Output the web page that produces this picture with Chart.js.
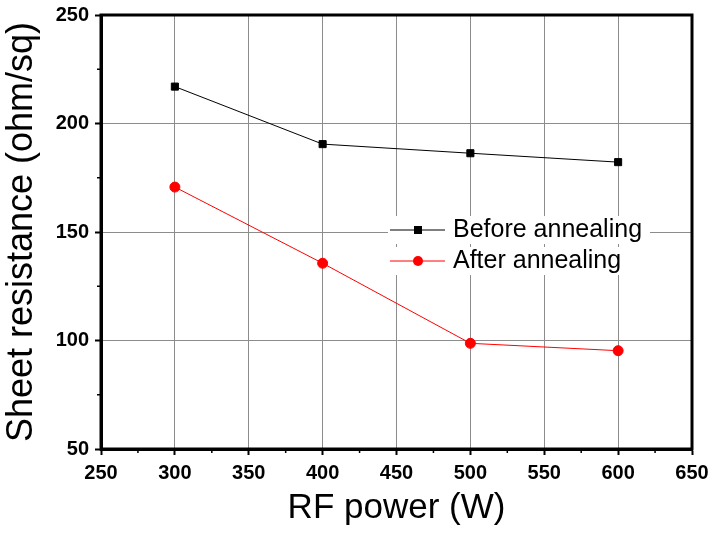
<!DOCTYPE html>
<html>
<head>
<meta charset="utf-8">
<script src="https://cdn.jsdelivr.net/npm/chart.js@4.4.1/dist/chart.umd.min.js"></script>
<style>
  body { margin: 0; background: #fff; }
  #wrap { width: 712px; height: 533px; position: relative; }
</style>
</head>
<body>
<div id="wrap"><canvas id="grafica"></canvas></div>
<script>
// Datos
const rfPower = [300, 400, 500, 600];
const beforeAnnealing = [217, 190.5, 186.3, 182.2];
const afterAnnealing = [170.7, 135.6, 98.7, 95.3];
const xTicks = [250, 300, 350, 400, 450, 500, 550, 600, 650];
const yTicks = [50, 100, 150, 200, 250];
const seriesNames = ["Before annealing", "After annealing"];

const fuente = "'Liberation Sans', Arial, sans-serif";

// Ticks menores, marco y leyenda dentro del área
const extras = {
  id: "extras",
  afterDraw(chart) {
    const ctx = chart.ctx;
    const a = chart.chartArea;
    const sx = chart.scales.x;
    const sy = chart.scales.y;
    ctx.save();
    ctx.strokeStyle = "#000";
    ctx.lineWidth = 1.5;
    // ticks menores
    for (let i = 0; i < xTicks.length - 1; i++) {
      const px = sx.getPixelForValue((xTicks[i] + xTicks[i + 1]) / 2);
      ctx.beginPath();
      ctx.moveTo(px, a.bottom);
      ctx.lineTo(px, a.bottom + 4);
      ctx.stroke();
    }
    for (let i = 0; i < yTicks.length - 1; i++) {
      const py = sy.getPixelForValue((yTicks[i] + yTicks[i + 1]) / 2);
      ctx.beginPath();
      ctx.moveTo(a.left, py);
      ctx.lineTo(a.left - 4, py);
      ctx.stroke();
    }
    // marco
    ctx.lineWidth = 3;
    ctx.strokeRect(a.left, a.top, a.right - a.left, a.bottom - a.top);

    // leyenda
    const filas = [230, 261];
    chart.data.datasets.forEach((ds, i) => {
      const y = filas[i];
      ctx.fillStyle = "#fff";
      ctx.fillRect(388, y - 14, 262, 28);
      ctx.strokeStyle = ds.borderColor;
      ctx.lineWidth = 1;
      ctx.beginPath();
      ctx.moveTo(390, y);
      ctx.lineTo(445, y);
      ctx.stroke();
      ctx.fillStyle = ds.pointBackgroundColor;
      if (ds.pointStyle === "rect") {
        ctx.fillRect(414, y - 4, 8, 8);
      } else {
        ctx.beginPath();
        ctx.arc(418, y, 5, 0, Math.PI * 2);
        ctx.fill();
      }
      ctx.fillStyle = "#000";
      ctx.font = "25px " + fuente;
      ctx.textBaseline = "middle";
      ctx.textAlign = "left";
      ctx.fillText(ds.label, 453, y);
    });
    ctx.restore();
  },
};

new Chart(document.getElementById("grafica"), {
  type: "line",
  data: {
    datasets: [
      {
        label: seriesNames[0],
        data: rfPower.map((x, i) => ({ x: x, y: beforeAnnealing[i] })),
        borderColor: "#000",
        backgroundColor: "#000",
        pointBackgroundColor: "#000",
        pointBorderColor: "#000",
        pointStyle: "rect",
        pointRadius: 5,
        borderWidth: 1,
      },
      {
        label: seriesNames[1],
        data: rfPower.map((x, i) => ({ x: x, y: afterAnnealing[i] })),
        borderColor: "#ff0000",
        backgroundColor: "#ff0000",
        pointBackgroundColor: "#ff0000",
        pointBorderColor: "#ff0000",
        pointStyle: "circle",
        pointRadius: 5,
        borderWidth: 1,
      },
    ],
  },
  options: {
    responsive: true,
    maintainAspectRatio: false,
    animation: false,
    layout: { padding: { top: 15, right: 20, left: 0, bottom: 0 } },
    plugins: {
      legend: { display: false },
      tooltip: { enabled: false },
    },
    scales: {
      x: {
        type: "linear",
        min: 250,
        max: 650,
        afterFit: (s) => {
          s.height = 84;
          s.paddingLeft = 0;
          s.paddingRight = 0;
        },
        afterBuildTicks: (s) => { s.ticks = xTicks.map((v) => ({ value: v })); },
        grid: {
          color: "#8c8c8c",
          lineWidth: 1,
          tickColor: "#000",
          tickLength: 6,
          tickWidth: 2,
        },
        border: { color: "#000", width: 3 },
        ticks: {
          color: "#000",
          padding: 6,
          font: { family: fuente, size: 20, weight: "bold" },
        },
        title: {
          display: true,
          text: "RF power (W)",
          color: "#000",
          padding: { top: 12 },
          font: { family: fuente, size: 35 },
        },
      },
      y: {
        min: 50,
        max: 250,
        afterFit: (s) => {
          s.width = 101;
          s.paddingTop = 0;
          s.paddingBottom = 0;
        },
        afterBuildTicks: (s) => { s.ticks = yTicks.map((v) => ({ value: v })); },
        grid: {
          color: "#8c8c8c",
          lineWidth: 1,
          tickColor: "#000",
          tickLength: 6,
          tickWidth: 2,
        },
        border: { color: "#000", width: 3 },
        ticks: {
          color: "#000",
          padding: 6,
          font: { family: fuente, size: 20, weight: "bold" },
        },
        title: {
          display: true,
          text: "Sheet resistance (ohm/sq)",
          color: "#000",
          padding: { top: 0, bottom: 0 },
          font: { family: fuente, size: 36 },
        },
      },
    },
  },
  plugins: [extras],
});
</script>
</body>
</html>
